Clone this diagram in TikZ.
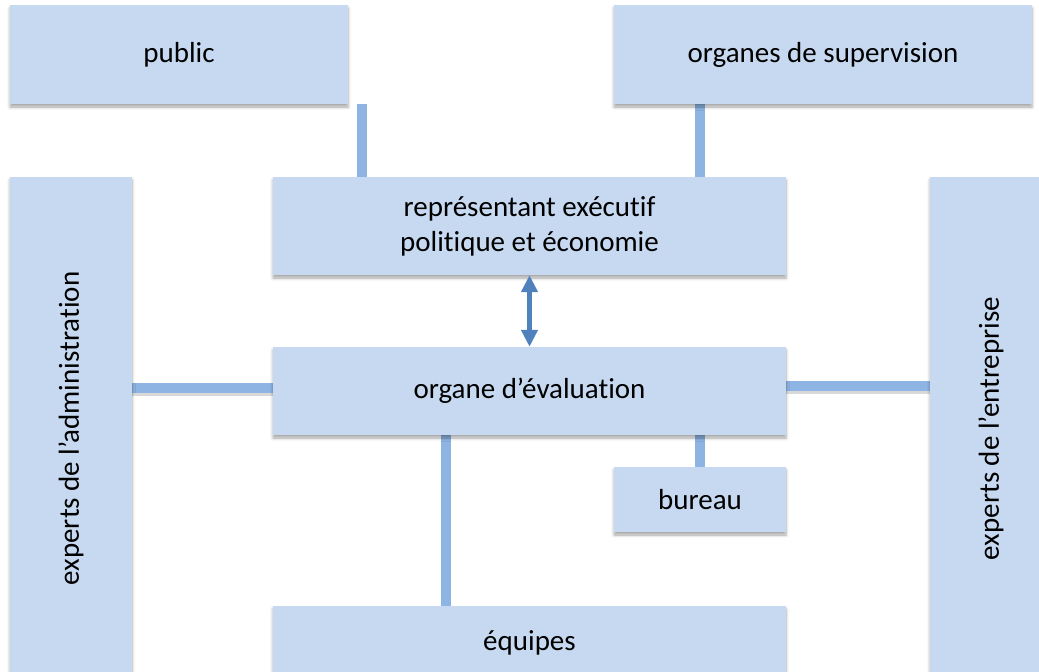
\documentclass[tikz,border=0pt]{standalone}
\usepackage{fontspec}
\setmainfont{Carlito}[Ligatures={NoCommon}]
\usetikzlibrary{arrows.meta,shadows.blur,backgrounds}
\definecolor{boxfill}{HTML}{C6D9F0}
\definecolor{connc}{HTML}{8EB4E3}
\definecolor{arrc}{HTML}{4F81BD}
\tikzset{
  box/.style={fill=boxfill, draw=none, inner sep=0pt, align=center,
    font=\fontsize{29}{35}\selectfont,
    blur shadow={shadow xshift=0pt, shadow yshift=-3pt, shadow blur radius=3pt, shadow opacity=35}},
  conn/.style={draw=connc, line width=10pt,
    preaction={draw=black, opacity=0.15, line width=10pt, transform canvas={yshift=-3pt}}},
  dbl/.style={draw=arrc, line width=5pt, {Triangle[width=16pt,length=17pt]}-{Triangle[width=16pt,length=17pt]}}
}
\begin{document}
\begin{tikzpicture}[x=1pt,y=-1pt]
\useasboundingbox (0,0) rectangle (1039,672);
\node[box, minimum width=338pt, minimum height=99pt] (public) at (179,54.5) {public};
\node[box, minimum width=418pt, minimum height=99pt] (sup) at (823,54.5) {organes de supervision};
\node[box, minimum width=122pt, minimum height=503pt] (admin) at (71,428.5) {\rotatebox{90}{experts de l’administration}};
\node[box, minimum width=122pt, minimum height=503pt] (entre) at (991,428.5) {\rotatebox{90}{experts de l’entreprise}};
\node[box, minimum width=513pt, minimum height=98pt] (rep) at (529.5,226) {représentant exécutif\\politique et économie};
\node[box, minimum width=513pt, minimum height=88pt] (org) at (529.5,391) {organe d’évaluation};
\node[box, minimum width=172pt, minimum height=65pt] (bureau) at (700,499.5) {bureau};
\node[box, minimum width=513pt, minimum height=74pt] (equipes) at (529.5,643) {équipes};
\begin{scope}[on background layer]
\draw[conn] (362,0 |- public.south) -- (362,0 |- rep.north);
\draw[conn] (700,0 |- sup.south) -- (700,0 |- rep.north);
\draw[conn] (admin.east |- 0,388) -- (org.west |- 0,388);
\draw[conn] (org.east |- 0,386) -- (entre.west |- 0,386);
\draw[conn] (446,0 |- org.south) -- (446,0 |- equipes.north);
\draw[conn] (700,0 |- org.south) -- (700,0 |- bureau.north);
\end{scope}
\draw[dbl] (rep.south) -- (org.north);
\end{tikzpicture}
\end{document}
